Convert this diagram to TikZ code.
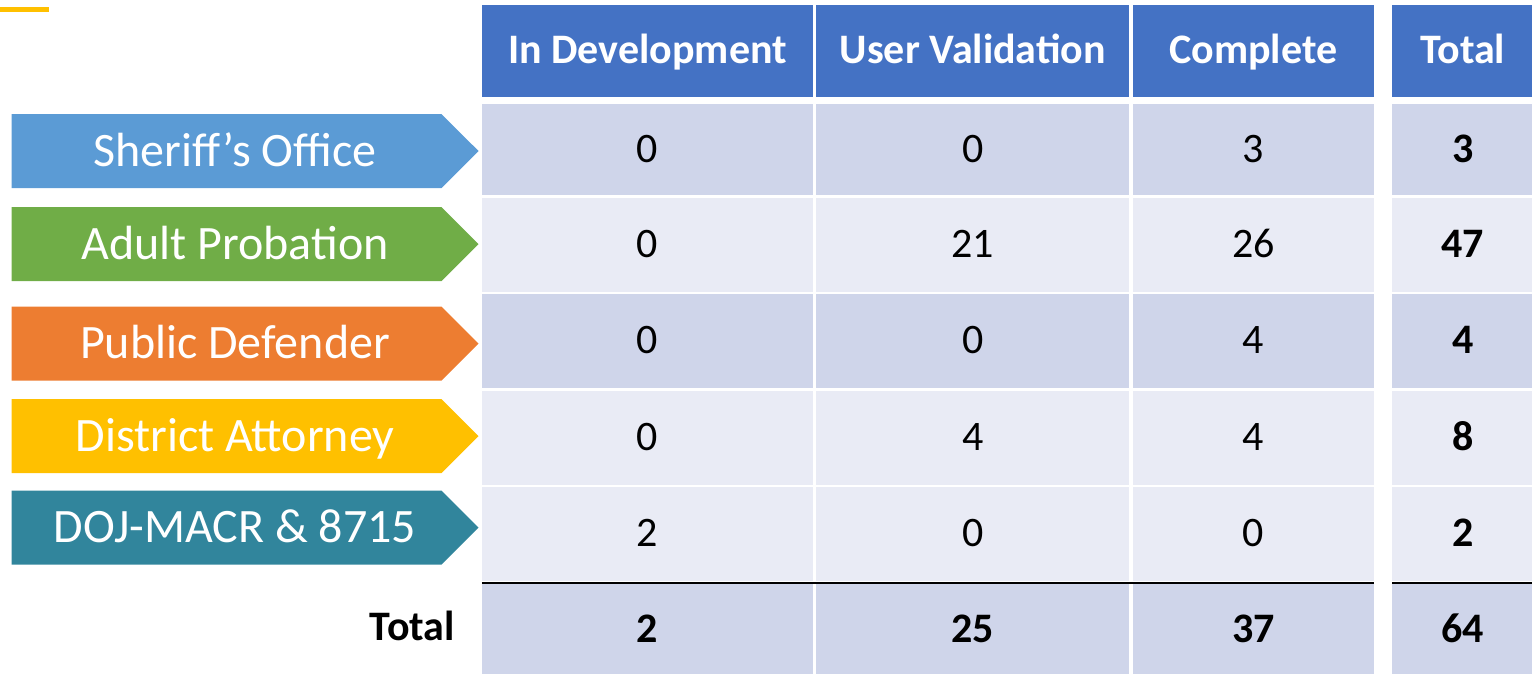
\documentclass[tikz,border=0pt]{standalone}
\usepackage{fontspec}
\setmainfont{Carlito}
\usetikzlibrary{shapes.symbols, positioning}
\definecolor{head-blue}{HTML}{4472C4}
\definecolor{row-dark}{HTML}{CFD5EA}
\definecolor{row-light}{HTML}{E9EBF5}
\definecolor{so-blue}{HTML}{5B9BD5}
\definecolor{ap-green}{HTML}{70AD47}
\definecolor{pd-orange}{HTML}{ED7D31}
\definecolor{da-yellow}{HTML}{FFC000}
\definecolor{doj-teal}{HTML}{31859C}
\tikzstyle{tag} = [
  signal,
  signal to=east,
  signal pointer angle=90,
  minimum width=467pt,
  minimum height=74pt,
  inner sep=0pt,
  text height=30pt,
  text depth=0pt,
  execute at begin node=\hspace*{17pt},
  text=white,
  font=\fontsize{48}{56}\selectfont
]
\tikzstyle{header} = [
  rectangle,
  minimum height=92pt,
  inner sep=0pt,
  text height=25pt,
  text depth=0pt,
  fill=head-blue,
  text=white,
  font=\fontsize{42}{50}\selectfont\bfseries
]
\tikzstyle{cell} = [
  rectangle,
  minimum height=94pt,
  inner sep=0pt,
  text height=25pt,
  text depth=0pt,
  font=\fontsize{42}{50}\selectfont
]
\tikzstyle{rule} = [line width=2pt, black]

\begin{document}
\begin{tikzpicture}[x=1pt, y=-1pt]
    \useasboundingbox (0,0) rectangle (1532,673);
    \fill [da-yellow] (0,7) rectangle (49,12);

    % header row
    \node (in-dev) [header, minimum width=331pt] at (647.5,51) {In Development};
    \node (user-val) [header, minimum width=313pt, right=3pt of in-dev] {User Validation};
    \node (complete) [header, minimum width=241pt, right=3pt of user-val] {Complete};
    \node (total) [header, minimum width=141pt, right=18pt of complete] {Total};

    % sheriff
    \node (so-dev) [cell, fill=row-dark, minimum width=331pt, minimum height=91pt, below=7pt of in-dev] {0};
    \node (so-val) [cell, fill=row-dark, minimum width=313pt, minimum height=91pt, below=7pt of user-val] {0};
    \node (so-done) [cell, fill=row-dark, minimum width=241pt, minimum height=91pt, below=7pt of complete] {3};
    \node (so-total) [cell, fill=row-dark, minimum width=141pt, minimum height=91pt, below=7pt of total, font=\fontsize{42}{50}\selectfont\bfseries] {3};

    % adult probation
    \node (ap-dev) [cell, fill=row-light, minimum width=331pt, below=2pt of so-dev] {0};
    \node (ap-val) [cell, fill=row-light, minimum width=313pt, below=2pt of so-val] {21};
    \node (ap-done) [cell, fill=row-light, minimum width=241pt, below=2pt of so-done] {26};
    \node (ap-total) [cell, fill=row-light, minimum width=141pt, below=2pt of so-total, font=\fontsize{42}{50}\selectfont\bfseries] {47};

    % public defender
    \node (pd-dev) [cell, fill=row-dark, minimum width=331pt, below=2pt of ap-dev] {0};
    \node (pd-val) [cell, fill=row-dark, minimum width=313pt, below=2pt of ap-val] {0};
    \node (pd-done) [cell, fill=row-dark, minimum width=241pt, below=2pt of ap-done] {4};
    \node (pd-total) [cell, fill=row-dark, minimum width=141pt, below=2pt of ap-total, font=\fontsize{42}{50}\selectfont\bfseries] {4};

    % district attorney
    \node (da-dev) [cell, fill=row-light, minimum width=331pt, below=2pt of pd-dev] {0};
    \node (da-val) [cell, fill=row-light, minimum width=313pt, below=2pt of pd-val] {4};
    \node (da-done) [cell, fill=row-light, minimum width=241pt, below=2pt of pd-done] {4};
    \node (da-total) [cell, fill=row-light, minimum width=141pt, below=2pt of pd-total, font=\fontsize{42}{50}\selectfont\bfseries] {8};

    % doj
    \node (doj-dev) [cell, fill=row-light, minimum width=331pt, below=2pt of da-dev] {2};
    \node (doj-val) [cell, fill=row-light, minimum width=313pt, below=2pt of da-val] {0};
    \node (doj-done) [cell, fill=row-light, minimum width=241pt, below=2pt of da-done] {0};
    \node (doj-total) [cell, fill=row-light, minimum width=141pt, below=2pt of da-total, font=\fontsize{42}{50}\selectfont\bfseries] {2};

    % totals
    \node (sum-dev) [cell, fill=row-dark, minimum width=331pt, minimum height=91pt, below=3pt of doj-dev, font=\fontsize{42}{50}\selectfont\bfseries] {2};
    \node (sum-val) [cell, fill=row-dark, minimum width=313pt, minimum height=91pt, below=3pt of doj-val, font=\fontsize{42}{50}\selectfont\bfseries] {25};
    \node (sum-done) [cell, fill=row-dark, minimum width=241pt, minimum height=91pt, below=3pt of doj-done, font=\fontsize{42}{50}\selectfont\bfseries] {37};
    \node (sum-total) [cell, fill=row-dark, minimum width=141pt, minimum height=91pt, below=3pt of doj-total, font=\fontsize{42}{50}\selectfont\bfseries] {64};
    \node (sum-label) [cell, anchor=east, font=\fontsize{42}{50}\selectfont\bfseries] at (455,627.5) {Total};

    \draw [rule] ([yshift=1.5pt]sum-dev.north west) -- ([yshift=1.5pt]sum-done.north east);
    \draw [rule] ([yshift=1.5pt]sum-total.north west) -- ([yshift=1.5pt]sum-total.north east);

    % office tags
    \node (sheriff-office) [tag, fill=so-blue] at (226.5,151) {Sheriff’s Office};
    \node (adult-probation) [tag, fill=ap-green] at (226.5,244) {Adult Probation};
    \node (public-defender) [tag, fill=pd-orange] at (226.5,343.5) {Public Defender};
    \node (district-attorney) [tag, fill=da-yellow] at (226.5,436) {District Attorney};
    \node (doj-macr) [tag, fill=doj-teal] at (226.5,527.5) {DOJ-MACR \& 8715};
  \end{tikzpicture}
\end{document}
